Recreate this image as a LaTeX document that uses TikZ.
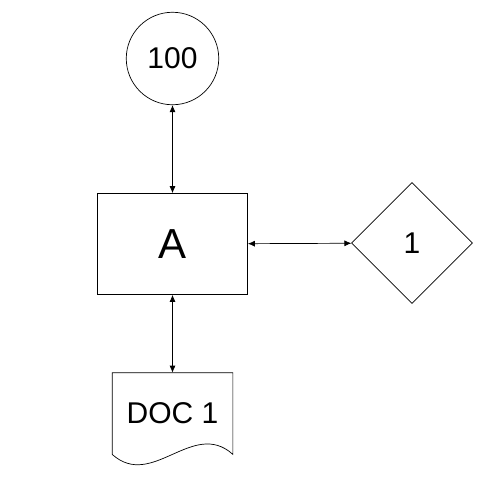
\documentclass[tikz,border=0pt]{standalone}
\usepackage{fontspec}
\setmainfont{Liberation Sans}
\usetikzlibrary{shapes.geometric, arrows.meta}

\begin{document}
\begin{tikzpicture} [x=1pt, y=-1pt, line width=0.7pt,
      txt/.style={font=\fontsize{30}{36}\selectfont},
      link/.style={{Latex[length=7pt,width=6pt]}-{Latex[length=7pt,width=6pt]}},
      round/.style={circle, draw, txt, inner sep=0pt, minimum size=92.5pt},
      block/.style={rectangle, draw, minimum width=150pt, minimum height=101pt, font=\fontsize{42}{48}\selectfont},
      choice/.style={diamond, draw, txt, inner sep=0pt, minimum width=121pt, minimum height=121pt},
      paper/.style={rectangle, draw=none, txt, minimum width=120pt, minimum height=81pt}]
      \useasboundingbox (0,0) rectangle (486,482);

      \node[round] (count) at (172.5,58.5) {100};
      \node[block] (task) at (172.5,244) {A};
      \node[choice] (test) at (412,243) {1};
      \node[paper] (doc) at (172.5,413.5) {DOC 1};

      % document outline with wavy bottom
      \draw (doc.south west) -- (doc.north west) -- (doc.north east) -- (doc.south east)
          .. controls +(-40,-36) and +(40,36) .. (doc.south west);

      \draw[link] (count) -- (task);
      \draw[link] (task) -- (test);
      \draw[link] (task.south) -- (doc.north);
\end{tikzpicture}
\end{document}
